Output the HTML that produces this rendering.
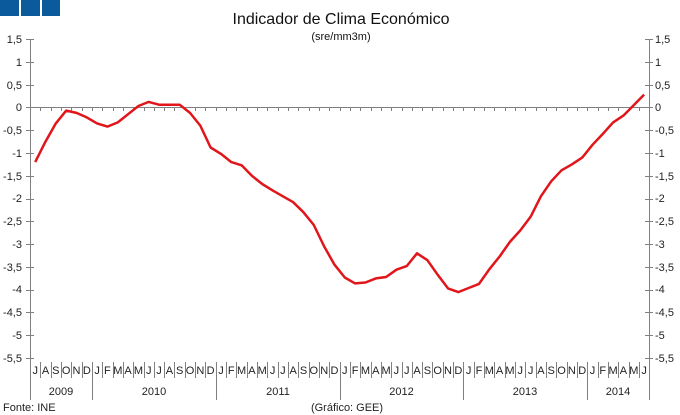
<!DOCTYPE html>
<html><head><meta charset="utf-8"><style>
body{margin:0;background:#fff}
svg{display:block;font-family:"Liberation Sans",Arial,sans-serif}
</style></head><body>
<svg id="s" width="680" height="415" viewBox="0 0 680 415" xmlns="http://www.w3.org/2000/svg">
<rect x="0" y="0" width="680" height="415" fill="#fff"/>
<rect x="0" y="0" width="19" height="16" fill="#0b5a9b"/>
<rect x="21" y="0" width="19" height="16" fill="#0b5a9b"/>
<rect x="42" y="0" width="18" height="16" fill="#0b5a9b"/>
<text x="341" y="24" font-size="16" text-anchor="middle" fill="#111">Indicador de Clima Económico</text>
<text x="341" y="40" font-size="11" text-anchor="middle" fill="#111">(sre/mm3m)</text>
<g id="ax" stroke="#808080" stroke-width="1" fill="none"></g>
<g font-size="11" fill="#222" text-anchor="end">
<text x="22" y="43">1,5</text><text x="22" y="66">1</text><text x="22" y="89">0,5</text><text x="22" y="111">0</text><text x="22" y="134">-0,5</text><text x="22" y="157">-1</text><text x="22" y="180">-1,5</text><text x="22" y="202">-2</text><text x="22" y="225">-2,5</text><text x="22" y="248">-3</text><text x="22" y="271">-3,5</text><text x="22" y="293">-4</text><text x="22" y="316">-4,5</text><text x="22" y="339">-5</text><text x="22" y="362">-5,5</text>
</g>
<g font-size="11" fill="#222" text-anchor="start">
<text x="655" y="43">1,5</text><text x="655" y="66">1</text><text x="655" y="89">0,5</text><text x="655" y="111">0</text><text x="655" y="134">-0,5</text><text x="655" y="157">-1</text><text x="655" y="180">-1,5</text><text x="655" y="202">-2</text><text x="655" y="225">-2,5</text><text x="655" y="248">-3</text><text x="655" y="271">-3,5</text><text x="655" y="293">-4</text><text x="655" y="316">-4,5</text><text x="655" y="339">-5</text><text x="655" y="362">-5,5</text>
</g>
<g font-size="11" fill="#222" text-anchor="middle">
<text x="35.2" y="374">J</text><text x="45.5" y="374">A</text><text x="55.8" y="374">S</text><text x="66.2" y="374">O</text><text x="76.5" y="374">N</text><text x="86.8" y="374">D</text>
<text x="97.1" y="374">J</text><text x="107.4" y="374">F</text><text x="117.8" y="374">M</text><text x="128.1" y="374">A</text><text x="138.4" y="374">M</text><text x="148.7" y="374">J</text><text x="159" y="374">J</text><text x="169.4" y="374">A</text><text x="179.7" y="374">S</text><text x="190" y="374">O</text><text x="200.3" y="374">N</text><text x="210.6" y="374">D</text>
<text x="221" y="374">J</text><text x="231.3" y="374">F</text><text x="241.6" y="374">M</text><text x="251.9" y="374">A</text><text x="262.2" y="374">M</text><text x="272.6" y="374">J</text><text x="282.9" y="374">J</text><text x="293.2" y="374">A</text><text x="303.5" y="374">S</text><text x="313.8" y="374">O</text><text x="324.2" y="374">N</text><text x="334.5" y="374">D</text>
<text x="344.8" y="374">J</text><text x="355.1" y="374">F</text><text x="365.4" y="374">M</text><text x="375.8" y="374">A</text><text x="386.1" y="374">M</text><text x="396.4" y="374">J</text><text x="406.7" y="374">J</text><text x="417" y="374">A</text><text x="427.4" y="374">S</text><text x="437.7" y="374">O</text><text x="448" y="374">N</text><text x="458.3" y="374">D</text>
<text x="468.6" y="374">J</text><text x="479" y="374">F</text><text x="489.3" y="374">M</text><text x="499.6" y="374">A</text><text x="509.9" y="374">M</text><text x="520.2" y="374">J</text><text x="530.6" y="374">J</text><text x="540.9" y="374">A</text><text x="551.2" y="374">S</text><text x="561.5" y="374">O</text><text x="571.8" y="374">N</text><text x="582.2" y="374">D</text>
<text x="592.5" y="374">J</text><text x="602.8" y="374">F</text><text x="613.1" y="374">M</text><text x="623.4" y="374">A</text><text x="633.8" y="374">M</text><text x="644.1" y="374">J</text>
<text x="61" y="395">2009</text><text x="154" y="395">2010</text><text x="278" y="395">2011</text><text x="401.5" y="395">2012</text><text x="525" y="395">2013</text><text x="618" y="395">2014</text>
</g>
<text x="3" y="411" font-size="11" fill="#222">Fonte: INE</text>
<text x="347" y="411" font-size="11" fill="#222" text-anchor="middle">(Gráfico: GEE)</text>
<polyline fill="none" stroke="#e0161b" stroke-width="2.5" stroke-linejoin="round" points="35.2,162.1 45.5,141.6 55.8,123.4 66.2,110.6 76.5,112.9 86.8,117.4 97.1,123.4 107.4,126.6 117.8,122.4 128.1,114.2 138.4,106 148.7,101.9 159,104.7 169.4,104.7 179.7,104.7 190,112.9 200.3,125.6 210.6,147.5 221,153.9 231.3,162.1 241.6,165.3 251.9,175.8 262.2,184 272.6,190.4 282.9,196.3 293.2,202.2 303.5,212.3 313.8,225 324.2,246.5 334.5,264.7 344.8,277.5 355.1,283.4 365.4,282.5 375.8,278.4 386.1,277 396.4,269.7 406.7,266.1 417,253.3 427.4,260.2 437.7,274.8 448,288.4 458.3,292.1 468.6,288 479,283.9 489.3,269.3 499.6,256.5 509.9,241.9 520.2,230.5 530.6,216.8 540.9,196.3 551.2,181.3 561.5,170.3 571.8,164.4 582.2,157.6 592.5,144.8 602.8,133.9 613.1,122.4 623.4,115.6 633.8,105.1 644.1,94.6"/>
</svg>
<script>
var g=document.getElementById('ax'),d='';
function L(a,b,c,e){d+='M'+a+' '+b+'L'+c+' '+e;}
L(30.5,39,30.5,400);L(649.5,39,649.5,400);L(30,107.5,649,107.5);
for(var k=0;k<=14;k++){var y=Math.round(39+k*22.79)+.5;L(26,y,34,y);L(645,y,653,y);}
for(var i=1;i<60;i++){var x=Math.round(30+i*10.32)+.5;L(x,107,x,111);var yr=(i-6)%12==0;L(x,362,x,yr?400:378);}
var p=document.createElementNS('http://www.w3.org/2000/svg','path');p.setAttribute('d',d);g.appendChild(p);
</script>
</body></html>
